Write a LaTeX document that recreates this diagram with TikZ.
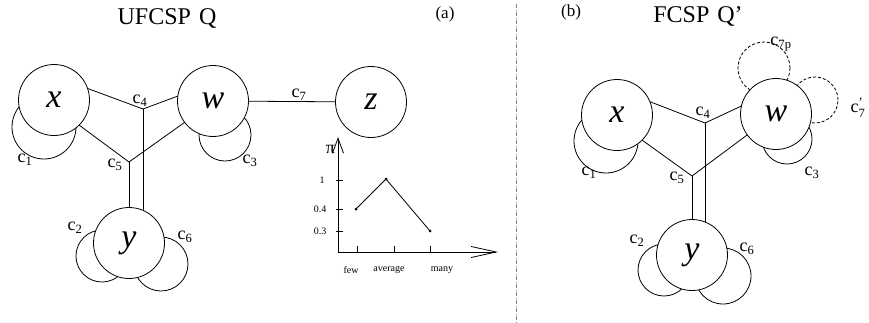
\documentclass[tikz,border=0pt]{standalone}
\usepackage{amsmath}
\usepackage{fontspec}
\setmainfont{Liberation Serif}
\usetikzlibrary{arrows.meta}
\newcommand\csub[1]{c$_{\text{#1}}$}
\begin{document}
\begin{tikzpicture}[x=1pt,y=-1pt,
  every node/.style={inner sep=0pt,outer sep=0pt},
  var/.style={circle,draw,fill=white,line width=0.8pt,minimum size=71pt,font=\fontsize{34}{34}\selectfont\itshape},
  loopc/.style={circle,draw,line width=0.8pt},
  dloop/.style={circle,draw,line width=0.8pt,dash pattern=on 3pt off 2pt},
  edge/.style={line width=0.8pt},
  lab/.style={font=\fontsize{18}{18}\selectfont},
  ttl/.style={font=\fontsize{24}{24}\selectfont},
  small/.style={font=\fontsize{10}{10}\selectfont},
  sep/.style={gray,line width=1pt,dash pattern=on 4pt off 1.5pt on 1pt off 1.5pt}
]
\useasboundingbox (0,0) rectangle (869,322);

% ---------- titles ----------
\node[ttl,anchor=base] (t1) at (167,24) {UFCSP\hspace{8pt}Q};
\node[ttl,anchor=base] (t2) at (698,22) {FCSP\hspace{8pt}Q’};
\node[font=\fontsize{17}{17}\selectfont] (pa) at (445,14) {(a)};
\node[font=\fontsize{17}{17}\selectfont] (pb) at (571,12) {(b)};

% separator
\coordinate (s1) at (516,4);
\coordinate (s2) at (516,322);
\draw[sep] (s1) -- (s2);

% ================= panel (a) =================
\coordinate (a4) at (143,109);
\coordinate (a5) at (129,162);
% loops
\node[loopc,minimum size=64pt] (al1) at (44,127) {};
\node[loopc,minimum size=52pt] (al3) at (225,135) {};
\node[loopc,minimum size=52pt] (al2) at (102,256) {};
\node[loopc,minimum size=54pt] (al6) at (161,264) {};
% connectors (drawn before nodes so nodes mask them)
\coordinate (ax0) at (54,100);
\coordinate (aw0) at (213,101);
\coordinate (ay0) at (129,243);
\draw[edge] (a4) -- (a4 |- ay0);
\draw[edge] (a5) -- (ay0);
% variables
\node[var] (ax) at (ax0) {x};
\node[var] (aw) at (aw0) {w};
\node[var] (ay) at (ay0) {y};
\node[var] (az) at (371,102) {z};
\draw[edge] (ax.19) -- (a4) -- (aw.172);
\draw[edge] (ax.-45) -- (a5) -- (aw.217);
\draw[edge] (aw) -- (az);
% labels
\node[lab] (ac1) at (25,160) {\csub{1}};
\node[lab] (ac5) at (115,165) {\csub{5}};
\node[lab] (ac4) at (140,101) {\csub{4}};
\node[lab] (ac3) at (250,161) {\csub{3}};
\node[lab] (ac7) at (299,95) {\csub{7}};
\node[lab] (ac2) at (75,228) {\csub{2}};
\node[lab] (ac6) at (185,237) {\csub{6}};

% ---------- chart ----------
\coordinate (o) at (338,252);
\coordinate (ytip) at (338,137);
\coordinate (xtip) at (498,252);
\draw[edge,-{Straight Barb[length=15pt,width=11pt,line width=0.8pt]}] (o) -- (ytip);
\draw[edge,-{Straight Barb[length=25pt,width=11pt,line width=0.8pt]}] (o) -- (xtip);
\node[font=\fontsize{18}{18}\selectfont,anchor=east] (pi) at (335,149) {π};
% y ticks
\coordinate (yt1) at (336,180);
\coordinate (yt2) at (336,209);
\coordinate (yt3) at (336,231);
\draw[edge] (yt1) -- ++(7,0);
\draw[edge] (yt2) -- ++(7,0);
\draw[edge] (yt3) -- ++(7,0);
\node[small] (l1) at (322,180) {1};
\node[small] (l04) at (320,209) {0.4};
\node[small] (l03) at (320,231) {0.3};
% x ticks
\coordinate (xt1) at (357,252);
\coordinate (xt2) at (394,252);
\coordinate (xt3) at (430,252);
\draw[edge] (xt1) -- ++(0,-6);
\draw[edge] (xt2) -- ++(0,-6);
\draw[edge] (xt3) -- ++(0,-6);
\node[small] (lf) at (351,270) {few};
\node[small] (la) at (389,270) {average};
\node[small] (lm) at (442,270) {many};
% data
\coordinate (d1) at (356,209);
\coordinate (d2) at (386,179);
\coordinate (d3) at (430,231);
\draw[edge] (d1) -- (d2) -- (d3);
\fill (d1) circle (1.5pt) (d2) circle (1.5pt) (d3) circle (1.5pt);

% ================= panel (b) =================
\coordinate (b4) at (705,123);
\coordinate (b5) at (692,176);
\node[loopc,minimum size=64pt] (bl1) at (606,141) {};
\node[loopc,minimum size=50pt] (bl3) at (787,139) {};
\node[loopc,minimum size=52pt] (bl2) at (664,270) {};
\node[loopc,minimum size=56pt] (bl6) at (723,276) {};
\node[dloop,minimum size=52pt] (bl7p) at (764,68) {};
\node[dloop,minimum size=46pt] (bl7q) at (815,100) {};
\coordinate (bx0) at (617,115);
\coordinate (bw0) at (776,114);
\coordinate (by0) at (692,255);
\draw[edge] (b4) -- (b4 |- by0);
\draw[edge] (b5) -- (by0);
\node[var] (bx) at (bx0) {x};
\node[var] (bw) at (bw0) {w};
\node[var] (by) at (by0) {y};
\draw[edge] (bx.22) -- (b4) -- (bw.167);
\draw[edge] (bx.-45) -- (b5) -- (bw.216);
\node[lab] (bc1) at (589,173) {\csub{1}};
\node[lab] (bc5) at (677,178) {\csub{5}};
\node[lab] (bc4) at (703,113) {\csub{4}};
\node[lab] (bc7p) at (781,44) {\csub{7p}};
\node[lab] (bc7q) at (858,108) {c$^{\text{’}}_{\text{7}}$};
\node[lab] (bc3) at (812,173) {\csub{3}};
\node[lab] (bc2) at (637,241) {\csub{2}};
\node[lab] (bc6) at (747,249) {\csub{6}};
\end{tikzpicture}
\end{document}
